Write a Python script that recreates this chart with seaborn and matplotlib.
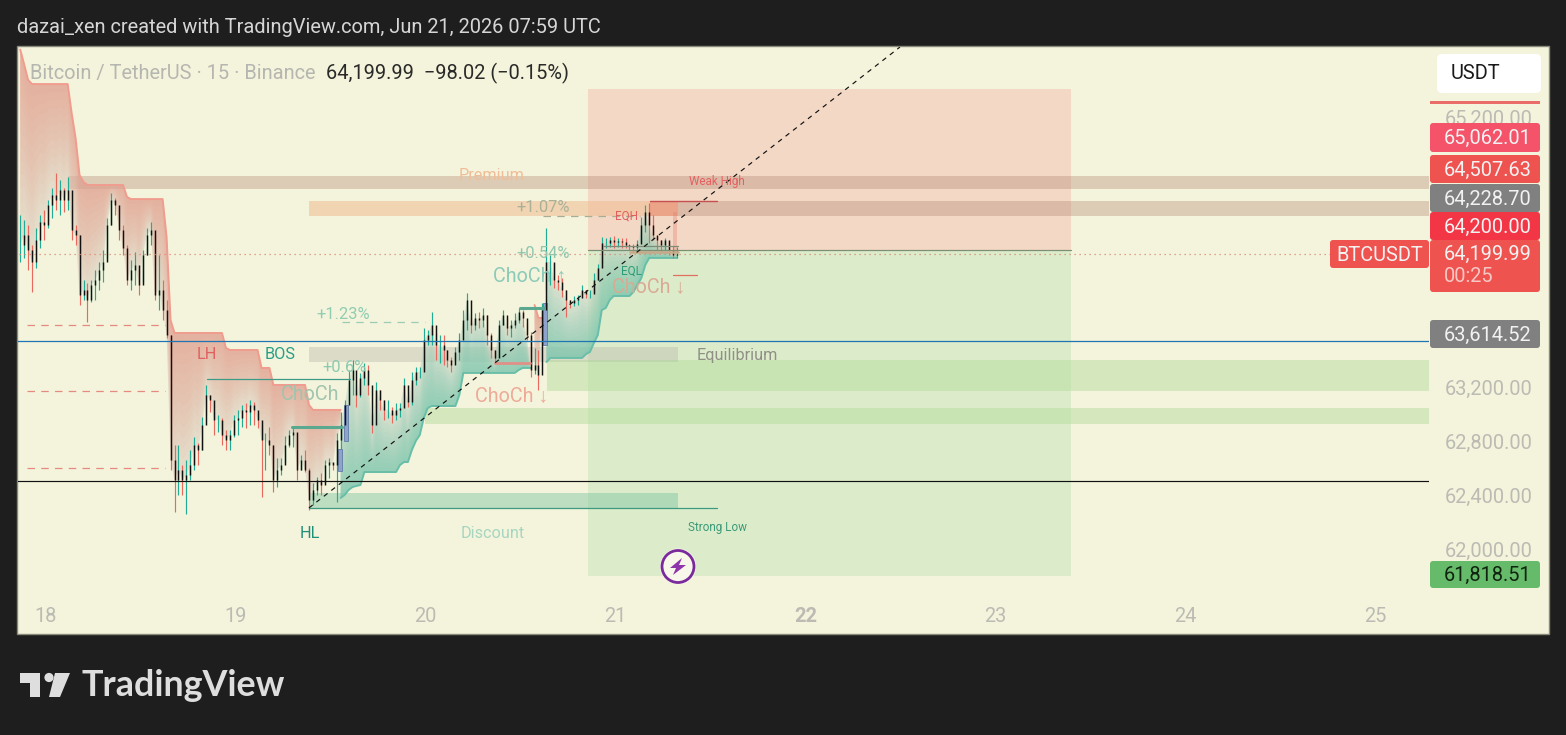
import numpy as np
import matplotlib
matplotlib.use("Agg")
import matplotlib.pyplot as plt
from matplotlib.patches import Circle, FancyBboxPatch, Polygon, Rectangle
from matplotlib.ticker import FixedLocator, FuncFormatter, MultipleLocator
import seaborn as sns

# candles, 30 min apart
candle_high = [64474, 64437, 64400, 64252, 64378, 64474, 64511, 64585, 64674, 64785,
               64733, 64674, 64755, 64548, 64400, 64326, 63993, 63970, 63993, 64067,
               64126, 64215, 64452, 64637, 64600, 64526, 64400, 64252, 64141, 64200,
               64067, 64215, 64378, 64422, 64326, 64178, 63993, 63844, 63585, 62770,
               62770, 62622, 62659, 62733, 62830, 62785, 62978, 63215, 63141, 63015,
               62993, 62970, 62881, 62881, 62993, 63030, 63067, 63081, 63104, 63089,
               63007, 62919, 62859, 62904, 62770, 62674, 62674, 62837, 62881, 62896,
               62807, 62696, 62733, 62600, 62489, 62533, 62563, 62659, 62674, 62637,
               62859, 63015, 63104, 63326, 63400, 63252, 63304, 63378, 63363, 63007,
               63237, 63178, 63104, 63104, 63052, 63081, 63081, 63267, 63126, 63311,
               63348, 63348, 63637, 63622, 63756, 63600, 63585, 63585, 63474, 63422,
               63496, 63600, 63770, 63896, 63711, 63748, 63756, 63785, 63733, 63600,
               63474, 63696, 63770, 63711, 63696, 63748, 63785, 63770, 63674, 63607,
               63489, 63474, 63822, 64378, 64178, 64118, 64030, 64007, 63919, 63844,
               63874, 63881, 63956, 63919, 63919, 64044, 64111, 64311, 64304, 64311,
               64318, 64304, 64304, 64304, 64259, 64259, 64289, 64459, 64548, 64563,
               64474, 64311, 64289, 64304, 64274, 64244, 64237]
candle_low = [64126, 64156, 64067, 63904, 64081, 64230, 64289, 64378, 64452, 64511,
              64474, 64496, 64511, 64289, 64252, 63807, 63844, 63681, 63830, 63844,
              63919, 63978, 64156, 64400, 64474, 64289, 64178, 63956, 63919, 63956,
              63881, 63978, 64178, 64252, 63844, 63770, 63696, 63563, 62585, 62274,
              62400, 62400, 62259, 62511, 62585, 62622, 62733, 62993, 63015, 62844,
              62867, 62770, 62733, 62733, 62830, 62844, 62904, 62896, 62919, 62919,
              62896, 62385, 62585, 62696, 62422, 62459, 62548, 62644, 62756, 62756,
              62511, 62585, 62570, 62289, 62326, 62400, 62400, 62496, 62526, 62585,
              62348, 62659, 62844, 63104, 63141, 63052, 63126, 63215, 63141, 62859,
              63044, 63030, 62956, 62970, 62933, 62956, 62978, 63126, 63052, 63067,
              63215, 63267, 63326, 63511, 63511, 63400, 63378, 63363, 63348, 63311,
              63400, 63400, 63600, 63622, 63600, 63622, 63637, 63644, 63511, 63415,
              63385, 63526, 63659, 63585, 63570, 63637, 63674, 63644, 63548, 63274,
              63296, 63178, 63511, 63919, 63956, 63933, 63919, 63867, 63719, 63785,
              63800, 63807, 63881, 63859, 63859, 63904, 63993, 64118, 64230, 64237,
              64230, 64237, 64230, 64230, 64215, 64200, 64215, 64274, 64348, 64267,
              64289, 64215, 64200, 64215, 64178, 64156, 64156]
candle_close = [64252, 64326, 64215, 64126, 64289, 64422, 64400, 64548, 64622, 64585,
                64659, 64585, 64659, 64363, 64326, 63881, 63919, 63844, 63956, 63993,
                64067, 64126, 64400, 64585, 64548, 64363, 64230, 63993, 64067, 64104,
                63956, 64178, 64326, 64363, 63881, 63919, 63770, 63585, 62659, 62511,
                62585, 62511, 62548, 62622, 62770, 62733, 62919, 63141, 63104, 62956,
                62956, 62844, 62807, 62844, 62956, 62970, 63030, 63015, 63067, 63030,
                62956, 62807, 62807, 62770, 62511, 62585, 62622, 62770, 62844, 62867,
                62585, 62659, 62585, 62363, 62437, 62511, 62474, 62622, 62644, 62622,
                62807, 62919, 63067, 63252, 63326, 63141, 63267, 63326, 63215, 62919,
                63178, 63104, 63030, 63030, 62993, 63030, 63044, 63215, 63089, 63252,
                63311, 63311, 63548, 63585, 63659, 63511, 63511, 63474, 63400, 63363,
                63459, 63548, 63696, 63844, 63659, 63711, 63696, 63733, 63585, 63474,
                63415, 63659, 63733, 63637, 63659, 63696, 63756, 63711, 63585, 63326,
                63363, 63289, 63770, 64126, 64126, 63993, 63978, 63919, 63844, 63822,
                63844, 63859, 63919, 63889, 63889, 63993, 64081, 64267, 64267, 64289,
                64274, 64281, 64274, 64252, 64244, 64237, 64259, 64400, 64496, 64400,
                64326, 64289, 64252, 64289, 64215, 64178, 64185]

red_band = ([65700, 65590, 65474] + [65444] * 10 + [65230, 65044, 64770, 64718]
            + [64696] * 10 + [64607] + [64592] * 9 + [64311, 63696] + [63600] * 13
            + [63489] + [63474] * 8 + [63341] * 3 + [63215] * 9 + [63067] + [63030] * 8
            + [np.nan] * 48 + [63807, 63711, 63711] + [np.nan] * 34)
green_band = ([np.nan] * 81 + [62378, 62400, 62437, 62459, 62467, 62474] + [62570] * 9
              + [62622, 62644, 62644, 62733, 62800, 62844, 62970, 63044] + [63059] * 7
              + [63141] + [63304] * 14 + [63326] + [63341] * 3 + [np.nan] * 3
              + [63385] + [63415] * 9 + [63444, 63459, 63526, 63585, 63770, 63785, 63844]
              + [63874] * 5 + [63904, 63956, 64007, 64104] + [64156] * 8)

first_candle_day = 17.8646
right_day = 25.283
# the other round prices sit behind the price tags
price_ticks = [65200, 63200, 62800, 62400, 62000]

# drawing tools on the chart
trend_day = [19.385, 22.497]
trend_price = [62304, 65718]
long_box_day = [20.854, 23.398]
target_price = 65407
entry_price = 64215
stop_price = 61800
blue_line = 63541
black_line = 62504
last_price = 64185

panel = "#f4f4dc"
up = "#22ab94"
down = "#e8695e"

sns.set_theme(style="white")
plt.rcParams["font.family"] = ["Roboto", "Liberation Sans", "DejaVu Sans"]
plt.rcParams["axes.unicode_minus"] = False

fig = plt.figure(figsize=(15.66, 7.35), dpi=100, facecolor="#1e1e1e")
W, H = 1566, 735
# full frame layer under the chart
back = fig.add_axes([0, 0, 1, 1], zorder=0)
back.set_xlim(0, W)
back.set_ylim(H, 0)
back.axis("off")
back.add_patch(Rectangle((17, 46), 1532, 588, fc=panel, ec="#8a8a7c", lw=1.0))

ax = fig.add_axes([18 / W, 1 - 595 / H, (1429 - 18) / W, (595 - 47) / H], zorder=1)
ax.patch.set_alpha(0)

ui = fig.add_axes([0, 0, 1, 1], zorder=2)
ui.set_xlim(0, W)
ui.set_ylim(H, 0)
ui.axis("off")
ui.patch.set_alpha(0)

candle_day = first_candle_day + np.arange(len(candle_close)) / 48
high = np.array(candle_high, float)
low = np.array(candle_low, float)
close = np.array(candle_close, float)
open_ = np.r_[close[0], close[:-1]]
red = np.array(red_band, float)
green = np.array(green_band, float)


def zone(d0, d1, p0, p1, color, alpha, z=1):
    ax.fill_between([d0, d1], p0, p1, color=color, alpha=alpha, lw=0, zorder=z)


def level(d0, d1, p, color, lw=1.0, ls="-", z=6):
    sns.lineplot(x=[d0, d1], y=[p, p], color=color, lw=lw, ls=ls, ax=ax,
                 estimator=None, sort=False, zorder=z)


def band_line(values, color):
    # lineplot would join over the gaps, so draw each run alone
    good = ~np.isnan(values)
    edges = np.flatnonzero(np.diff(np.r_[0, good.astype(int), 0]))
    for a, b in zip(edges[::2], edges[1::2]):
        sns.lineplot(x=candle_day[a:b], y=values[a:b], color=color, lw=1.4, ax=ax,
                     estimator=None, sort=False, zorder=3)


def band_fill(values, color):
    ax.fill_between(candle_day, values, close, color="#d8d8c8", alpha=0.55, lw=0, zorder=2)
    layers = 14
    for k in range(1, layers + 1):
        ax.fill_between(candle_day, values, values + (close - values) * k / layers,
                        color=color, alpha=0.048, lw=0, zorder=2)


# long position box and supply / demand zones
zone(long_box_day[0], long_box_day[1], entry_price, target_price, "#f5a8a0", 0.36)
zone(long_box_day[0], long_box_day[1], stop_price, entry_price, "#b8e0b0", 0.4)
zone(18.116, right_day, 64667, 64762, "#b98f7c", 0.4)
zone(19.385, 21.328, 64467, 64578, "#f0bd90", 0.55)
zone(21.328, right_day, 64467, 64578, "#b98f7c", 0.4)
zone(19.385, 21.328, 63385, 63496, "#bdbdb0", 0.45)
zone(20.638, right_day, 63170, 63400, "#a8d890", 0.4)
zone(19.996, right_day, 62926, 63044, "#a8d890", 0.4)
zone(19.385, 21.328, 62296, 62415, "#7cc4a0", 0.45)
zone(21.181, 21.328, 64467, 64578, "#e0604c", 0.35)
zone(21.302, 21.323, 64193, 64496, "#e0806c", 0.35)

band_fill(red, "#f08a78")
band_fill(green, "#4cc0a4")
band_line(red, "#f09c8e")
band_line(green, "#68bea8")

# order block markers
for d0, d1, p0, p1 in [(19.538, 19.559, 62578, 62741), (19.569, 19.59, 62800, 63067),
                       (20.617, 20.638, 63511, 63822)]:
    ax.add_patch(Rectangle((d0, p0), d1 - d0, p1 - p0, fc="#8ea2cb", ec="#607ca8", lw=0.6, zorder=5))

rising = close >= open_
ax.vlines(candle_day, low, high, colors=np.where(rising, up, down), lw=0.85, zorder=4)
ax.vlines(candle_day, np.minimum(open_, close), np.maximum(open_, close), colors="#111111",
          lw=1.05, zorder=5)

level(17.7, right_day, blue_line, "#1f74b4", 0.9)
level(17.7, right_day, black_line, "#111111", 0.85)
level(17.7, right_day, last_price, "#d68a78", 0.9, (0, (1, 3)))
level(long_box_day[0], long_box_day[1], entry_price, "#7d8f72", 0.9)
level(19.385, 21.533, 62304, "#3d9a80", 0.9)
level(21.181, 21.533, 64578, "#c65050", 1.0)
level(21.302, 21.428, 64030, "#e07060", 0.9)
level(20.933, 21.328, 64244, "#7d8c76", 0.9)
level(21.075, 21.328, 64200, "#c8a888", 1.8)
for p in [63659, 63170, 62600]:
    level(17.9, 18.627, p, "#e58a80", 0.9, (0, (6, 5)))
level(19.559, 19.996, 63681, "#9ccdb4", 0.9, (0, (6, 5)))
level(20.617, 21.128, 64467, "#a8ae96", 0.9, (0, (6, 5)))
level(18.848, 19.601, 63259, "#3d9a88", 0.9)
level(19.295, 19.559, 62904, "#5ba890", 2.2)
level(20.496, 20.622, 63785, "#5ba890", 2.2)
level(20.364, 20.549, 63378, "#e09088", 2.0)
sns.lineplot(x=trend_day, y=trend_price, color="#111111", lw=0.85, ls=(0, (4, 4)), ax=ax,
             estimator=None, sort=False, zorder=7)

ax.set_xlim(17.853, right_day)
ax.set_ylim(61659, 65718.5)
ax.set_xlabel("")
ax.set_ylabel("")
for s in ax.spines.values():
    s.set_visible(False)
ax.xaxis.set_major_locator(MultipleLocator(1))
ax.xaxis.set_major_formatter(FuncFormatter(lambda v, _: f"{v:.0f}"))
ax.yaxis.set_major_locator(FixedLocator(price_ticks))
ax.yaxis.set_major_formatter(FuncFormatter(lambda v, _: f"{v:,.2f}"))
ax.yaxis.tick_right()
ax.tick_params(axis="y", length=0, pad=11, labelsize=14.4, labelcolor="#bbbbb4")
ax.tick_params(axis="x", length=0, pad=9, labelsize=14.4, labelcolor="#bbbbb4")
fig.canvas.draw()
for lab in ax.get_xticklabels():
    if lab.get_text() == "22":
        lab.set_fontweight("bold")

# header
ui.text(17, 27, "dazai_xen created with TradingView.com, Jun 21, 2026 07:59 UTC", color="#d6d6d6",
        fontsize=14.4, va="center")
ui.text(30, 73, "Bitcoin / TetherUS · 15 · Binance", color="#b6b6b0", fontsize=14.4, va="center")
ui.text(326, 73, "64,199.99  −98.02 (−0.15%)", color="#2a2a28", fontsize=14.4, va="center")

# chart labels
labels = [
    (492, 175, "Premium", "#f1bd98", 11.7, "center"),
    (493, 534, "Discount", "#a6d6c0", 11.7, "center"),
    (697, 355, "Equilibrium", "#8f8f86", 11.7, "left"),
    (207, 354, "LH", "#e06060", 11.7, "center"),
    (280, 354, "BOS", "#2a9d86", 11.7, "center"),
    (310, 534, "HL", "#1f8f78", 11.7, "center"),
    (310, 394, "ChoCh", "#a0c4ae", 14.2, "center"),
    (530, 276, "ChoCh ↑", "#8ccab8", 14.2, "center"),
    (512, 396, "ChoCh ↓", "#eeaa98", 14.2, "center"),
    (649, 287, "ChoCh ↓", "#d9aa94", 14.2, "center"),
    (343, 314, "+1.23%", "#90cdb2", 11.9, "center"),
    (345, 367, "+0.6%", "#8ccab0", 11.9, "center"),
    (543, 207, "+1.07%", "#aab098", 11.9, "center"),
    (543, 253, "+0.54%", "#90c6ae", 11.9, "center"),
    (626, 216, "EQH", "#e06060", 8.5, "center"),
    (632, 271, "EQL", "#2a9d78", 8.5, "center"),
    (717, 181, "Weak High", "#e56060", 8.5, "center"),
    (717, 528, "Strong Low", "#3a9a78", 8.5, "center"),
]
for x, y, s, c, size, ha in labels:
    ui.text(x, y, s, color=c, fontsize=size, ha=ha, va="center", zorder=8)


def price_tag(x0, x1, y0, y1, color, text, tcolor="#f2f2f2", tx=1444, ty=None):
    ui.add_patch(FancyBboxPatch((x0 + 2, y0 + 2), x1 - x0 - 4, y1 - y0 - 4,
                                boxstyle="round,pad=2,rounding_size=3", fc=color, ec="none", zorder=5))
    ui.text(tx, (y0 + y1) / 2 + 1 if ty is None else ty, text, color=tcolor, fontsize=14.4,
            va="center", zorder=6)


ui.add_patch(Rectangle((1430, 101), 110, 2.5, fc="#ea6d6a", ec="none", zorder=4))
price_tag(1430, 1540, 123, 152, "#f4536a", "65,062.01")
price_tag(1430, 1540, 155, 183, "#ef5350", "64,507.63")
price_tag(1430, 1540, 184, 212, "#808080", "64,228.70")
price_tag(1430, 1540, 212, 240, "#f23645", "64,200.00")
price_tag(1430, 1540, 240, 292, "#ef5350", "64,199.99", ty=254)
ui.text(1444, 276, "00:25", color="#f6c8c4", fontsize=14.4, va="center", zorder=6)
price_tag(1330, 1429, 240, 268, "#ef5350", "BTCUSDT", tx=1336)
price_tag(1430, 1540, 320, 348, "#808080", "63,614.52")
price_tag(1430, 1540, 561, 588, "#66bb6a", "61,818.51", tcolor="#10240f")
ui.add_patch(FancyBboxPatch((1440, 57), 98, 33, boxstyle="round,pad=3,rounding_size=5",
                            fc="white", ec="none", zorder=5))
ui.text(1451, 73, "USDT", color="#1a1a1a", fontsize=14.4, va="center", zorder=6)

# bolt marker
ui.add_patch(Circle((678, 566.5), 18, fc="#f7f7ea", ec="none", zorder=8))
ui.add_patch(Circle((678, 566.5), 16, fc="#f7f7ea", ec="#7b2a9c", lw=2, zorder=9))
ui.add_patch(Polygon([[682, 558], [670, 568], [676, 568], [673, 575], [686, 565], [679, 565]],
                     fc="#8e35ab", ec="none", zorder=10))

# logo
ui.add_patch(Polygon([[20, 673], [40, 673], [40, 697], [30, 697], [30, 683], [20, 683]],
                     fc="#dedede", ec="none"))
ui.add_patch(Circle((49, 677.5), 4.6, fc="#dedede", ec="none"))
ui.add_patch(Polygon([[55, 673], [70, 673], [60, 697], [49, 697]], fc="#dedede", ec="none"))
ui.text(81, 686, "TradingView", color="#dedede", fontsize=25.8, fontfamily="Lato", fontweight="bold",
        va="center")

fig.savefig("out.png", dpi=100, facecolor=fig.get_facecolor())
